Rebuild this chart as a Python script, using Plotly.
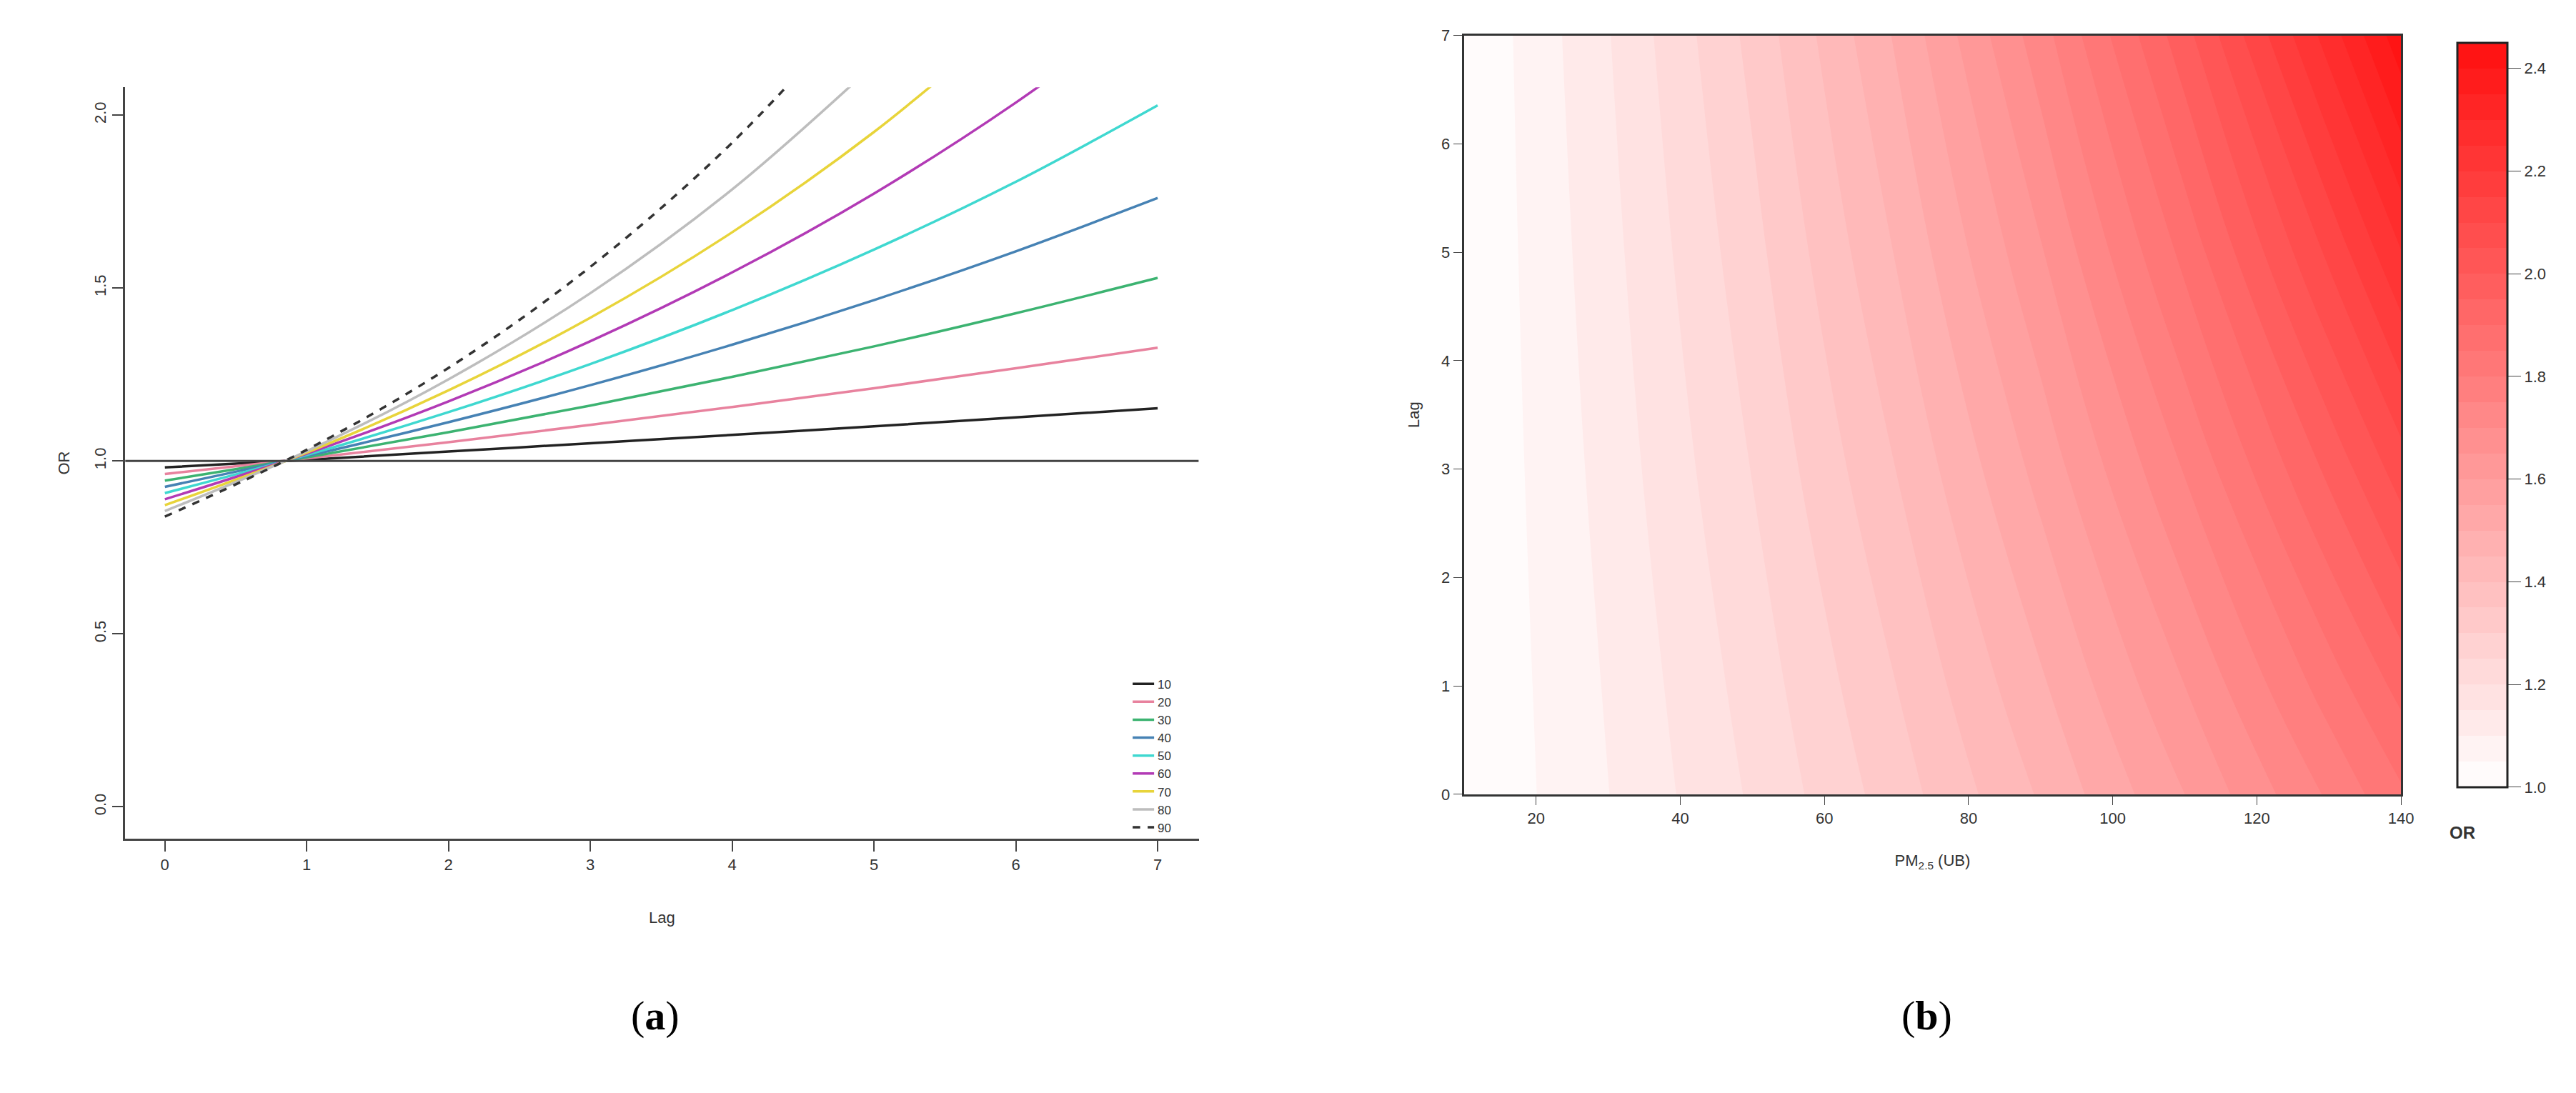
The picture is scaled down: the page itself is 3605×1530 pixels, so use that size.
import plotly.graph_objects as go

lags = [0, 1, 2, 3, 4, 5, 6, 7]
pm_levels = ["10", "20", "30", "40", "50", "60", "70", "80", "90"]
or_10 = [0.981, 1.003, 1.027, 1.051, 1.075, 1.100, 1.126, 1.152]
or_20 = [0.962, 1.007, 1.054, 1.104, 1.156, 1.210, 1.268, 1.327]
or_30 = [0.943, 1.010, 1.083, 1.160, 1.243, 1.331, 1.427, 1.529]
or_40 = [0.925, 1.014, 1.112, 1.219, 1.336, 1.465, 1.606, 1.760]
or_50 = [0.907, 1.017, 1.141, 1.280, 1.436, 1.611, 1.807, 2.028]
or_60 = [0.889, 1.021, 1.172, 1.346, 1.545, 1.773, 2.036, 2.336]
or_70 = [0.872, 1.024, 1.204, 1.414, 1.661, 1.951, 2.292]
or_80 = [0.855, 1.028, 1.236, 1.485, 1.785, 2.146]
or_90 = [0.839, 1.032, 1.269, 1.561, 1.920, 2.362]
series = [or_10, or_20, or_30, or_40, or_50, or_60, or_70, or_80, or_90]
colors = ["#222222", "#E8829E", "#3CB371", "#4682B4", "#3FD8D0", "#B23AB5", "#E8D43A", "#BDBDBD", "#333333"]

pm_grid = [10, 30, 50, 70, 90, 110, 130, 140]
lag_grid = [0, 1, 3, 5, 7]
or_grid = [
    [1, 1.099, 1.207, 1.326, 1.456, 1.600, 1.758, 1.842],
    [1, 1.105, 1.221, 1.350, 1.492, 1.650, 1.824, 1.917],
    [1, 1.119, 1.252, 1.401, 1.567, 1.754, 1.962, 2.075],
    [1, 1.133, 1.283, 1.454, 1.645, 1.865, 2.111, 2.248],
    [1, 1.147, 1.315, 1.507, 1.728, 1.982, 2.273, 2.433],
]
cbar_ticks = [1.0, 1.2, 1.4, 1.6, 1.8, 2.0, 2.2, 2.4]

W, H = 3605, 1530
fig = go.Figure()
for name, vals, col in zip(pm_levels, series, colors):
    fig.add_trace(go.Scatter(
        x=lags[:len(vals)], y=vals, mode="lines", name=name,
        line=dict(color=col, width=3.5, shape="spline", dash="dash" if name == "90" else "solid"),
        xaxis="x", yaxis="y"))

fig.add_trace(go.Contour(
    x=pm_grid, y=lag_grid, z=or_grid, xaxis="x2", yaxis="y2",
    colorscale=[[0, "#FFFFFF"], [1, "#FF1010"]], zmin=1.0, zmax=2.45,
    contours=dict(start=1.0, end=2.45, size=0.05, coloring="fill", showlines=False),
    line=dict(width=0), showlegend=False,
    colorbar=dict(x=3438 / W, xanchor="left", y=1 - 1110 / H, yanchor="bottom", len=1080 / H, lenmode="fraction",
                  thickness=70, outlinewidth=3, outlinecolor="#222",
                  tickvals=cbar_ticks, ticktext=[f"{t:.1f}" for t in cbar_ticks],
                  ticks="outside", ticklen=18, tickfont=dict(size=22, color="#333"))))

axfont = dict(size=22, color="#333", family="Liberation Sans")
fig.update_layout(
    width=W, height=H, margin=dict(l=0, r=0, t=0, b=0),
    paper_bgcolor="white", plot_bgcolor="white",
    font=dict(family="Liberation Sans"),
    xaxis=dict(domain=[168 / W, 1678 / W], range=[-0.28, 7.29], tickvals=lags, tickfont=axfont,
               showline=True, linecolor="#444", linewidth=3, ticks="outside", ticklen=15, tickwidth=2,
               showgrid=False, zeroline=False, title=dict(text="Lag", font=axfont, standoff=55)),
    yaxis=dict(domain=[1 - 1173 / H, 1 - 104 / H], range=[-0.092, 2.08], tickvals=[0, 0.5, 1, 1.5, 2],
               ticktext=["0.0", "0.5", "1.0", "1.5", "2.0"], tickangle=-90, tickfont=axfont,
               showline=True, linecolor="#444", linewidth=3, ticks="outside", ticklen=15, tickwidth=2,
               showgrid=False, zeroline=False, title=dict(text="OR", font=axfont, standoff=25)),
    xaxis2=dict(domain=[2051 / W, 3369 / W], range=[10, 140], tickvals=[20, 40, 60, 80, 100, 120, 140],
                tickfont=axfont, showline=True, mirror=True, linecolor="#333", linewidth=3,
                ticks="outside", ticklen=12, showgrid=False, zeroline=False, anchor="y2",
                title=dict(text="PM<sub>2.5</sub> (UB)", font=axfont, standoff=40)),
    yaxis2=dict(domain=[1 - 1110 / H, 1 - 30 / H], range=[0, 7], tickvals=lags,
                tickfont=axfont, showline=True, mirror=True, linecolor="#333", linewidth=3,
                ticks="outside", ticklen=12, showgrid=False, zeroline=False, anchor="x2",
                title=dict(text="Lag", font=axfont, standoff=25)),
    legend=dict(x=1580 / W, y=1 - 935 / H, xanchor="left", yanchor="top", font=dict(size=17, color="#333"),
                bgcolor="rgba(0,0,0,0)", tracegroupgap=0, itemwidth=30),
    shapes=[dict(type="line", xref="x", yref="y", x0=-0.28, x1=7.29, y0=1, y1=1,
                 line=dict(color="#444", width=3))],
    annotations=[
        dict(text="<b>OR</b>", x=3475 / W, y=1 - 1180 / H, xref="paper", yref="paper", showarrow=False,
             font=dict(size=24, color="#333")),
        dict(text="(<b>a</b>)", x=877 / W, y=1 - 1460 / H, xref="paper", yref="paper", showarrow=False,
             font=dict(size=58, color="black", family="Liberation Serif")),
        dict(text="(<b>b</b>)", x=2740 / W, y=1 - 1460 / H, xref="paper", yref="paper", showarrow=False,
             font=dict(size=58, color="black", family="Liberation Serif")),
    ],
)
fig.write_html("out.html")
